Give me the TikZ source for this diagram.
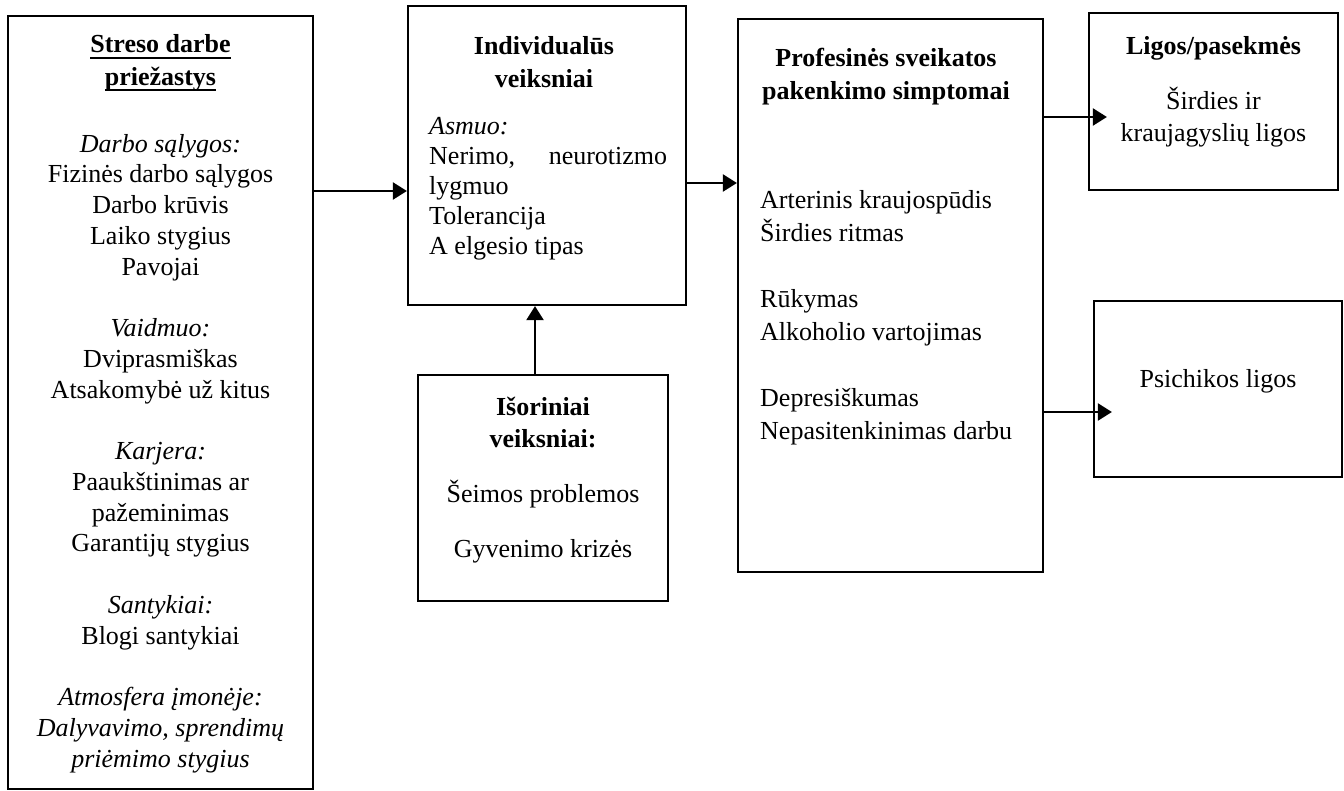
\documentclass[tikz,border=0pt]{standalone}
\usepackage{fontspec}
\setmainfont{Liberation Serif}
\usetikzlibrary{arrows.meta}
% underline drawn just below the baseline, through descenders
\newcommand\ulin[1]{\setbox0\hbox{#1}\rlap{\vrule width\wd0 height -3.6pt depth 5.6pt}\box0}
\begin{document}
\begin{tikzpicture}[x=1pt,y=-1pt,
  box/.style={draw,line width=2.2pt,rectangle,inner sep=0pt},
  body/.style={inner sep=0pt,font={\fontsize{26}{30.75}\selectfont}},
  head/.style={inner sep=0pt,font={\fontsize{26}{32.5}\selectfont\bfseries}},
  arr/.style={line width=2.2pt,-{Triangle[length=14pt,width=17pt]}}]
\useasboundingbox (0,0) rectangle (1344,791);

% boxes
\node[box,minimum width=305pt,minimum height=773pt] (causes) at (160.5,402.5) {};
\node[box,minimum width=278pt,minimum height=299pt] (indiv) at (547,155.5) {};
\node[box,minimum width=250pt,minimum height=226pt] (outer) at (543,488) {};
\node[box,minimum width=305pt,minimum height=553pt] (sympt) at (890.5,295.5) {};
\node[box,minimum width=249pt,minimum height=177pt] (heart) at (1213.5,101.5) {};
\node[box,minimum width=248pt,minimum height=176pt] (psych) at (1218,389) {};

% text blocks (base anchor = baseline of the last line)
% stress causes
\node[head,anchor=base,align=center] (causesT) at (160.5,85.5)
  {\ulin{Streso darbe}\\\ulin{priežastys}};
\node[body,anchor=base,align=center] (causesB) at (160.5,767)
  {\textit{Darbo sąlygos:}\\Fizinės darbo sąlygos\\Darbo krūvis\\Laiko stygius\\Pavojai\\[30.75pt]
   \textit{Vaidmuo:}\\Dviprasmiškas\\Atsakomybė už kitus\\[30.75pt]
   \textit{Karjera:}\\Paaukštinimas ar\\pažeminimas\\Garantijų stygius\\[30.75pt]
   \textit{Santykiai:}\\Blogi santykiai\\[30.75pt]
   \textit{Atmosfera įmonėje:}\\\textit{Dalyvavimo, sprendimų}\\\textit{priėmimo stygius}};

% individual factors
\node[head,anchor=base,align=center] (indivT) at (544,87.5) {Individualūs\\veiksniai};
\node[body,anchor=base west,align=left,font={\fontsize{26}{30}\selectfont}] (indivB) at (429,255)
  {\textit{Asmuo:}\\\hbox to 238pt{Nerimo,\hfill neurotizmo}\\lygmuo\\Tolerancija\\A elgesio tipas};

% external factors
\node[head,anchor=base,align=center] (outerT) at (543,447.5) {Išoriniai\\veiksniai:};
\node[body,anchor=base] (outer1) at (543,502) {Šeimos problemos};
\node[body,anchor=base] (outer2) at (543,557) {Gyvenimo krizės};

% symptoms
\node[head,anchor=base,align=center] (symptT) at (886,99.5) {Profesinės sveikatos\\pakenkimo simptomai};
\node[body,anchor=base west,align=left,font={\fontsize{26}{32.9}\selectfont}] (symptB) at (760,439)
  {Arterinis kraujospūdis\\Širdies ritmas\\[32.9pt]Rūkymas\\Alkoholio vartojimas\\[32.9pt]
   Depresiškumas\\Nepasitenkinimas darbu};

% consequences
\node[head,anchor=base] (heartT) at (1213.5,55) {Ligos/pasekmės};
\node[body,anchor=base,align=center,font={\fontsize{26}{32}\selectfont}] (heartB) at (1213.5,142)
  {Širdies ir\\kraujagyslių ligos};
\node[body,anchor=base] (psychT) at (1218,388) {Psichikos ligos};

% arrow levels
\coordinate (l1) at (0,191);
\coordinate (l2) at (0,183);
\coordinate (l3) at (0,117);
\coordinate (l4) at (0,412);
\coordinate (l5) at (535,0);

\draw[arr] (causes.east |- l1) -- (indiv.west |- l1);
\draw[arr] (indiv.east |- l2) -- (sympt.west |- l2);
\draw[arr] (sympt.east |- l3) -- ([xshift=19pt]heart.west |- l3);
\draw[arr] (sympt.east |- l4) -- ([xshift=19pt]psych.west |- l4);
\draw[arr] (l5 |- outer.north) -- (l5 |- indiv.south);
\end{tikzpicture}
\end{document}
